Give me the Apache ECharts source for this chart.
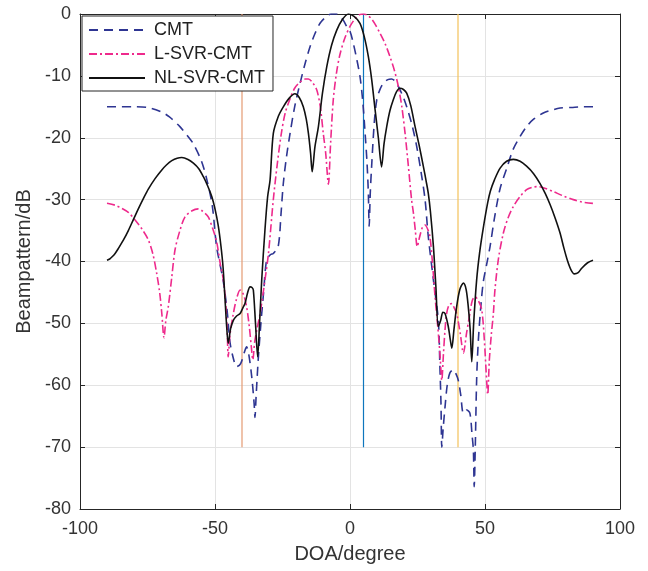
<!DOCTYPE html>
<html>
<head>
<meta charset="utf-8">
<script src="https://cdn.jsdelivr.net/npm/echarts@6/dist/echarts.min.js"></script>
<style>
html,body{margin:0;padding:0;background:#fff;}
#chart{width:648px;height:571px;}
</style>
</head>
<body>
<div id="chart"></div>
<script>
// ---- data (DOA in degrees, beampattern in dB) ----
const seriesNames = ['CMT', 'L-SVR-CMT', 'NL-SVR-CMT'];

const cmtPoints = [
  [-90,-15],[-85,-15],[-80,-15],[-75,-15.1],[-70,-15.8],[-67,-16.6],[-63,-18.2],[-60,-19.8],
  [-58,-21],[-55,-23.8],[-53,-26.8],[-51,-31],[-49.4,-37.6],[-47,-43],[-45.5,-48],[-44.4,-53.2],
  [-43,-56],[-42,-57],[-40.5,-56.5],[-39,-54.5],[-38.3,-53.8],[-37.5,-55],[-36.4,-58.6],[-35.5,-63],
  [-35.2,-65.2],[-34.8,-62],[-34,-55.9],[-33,-50],[-32,-45],[-30.9,-39.8],[-29.5,-38.9],[-28.4,-38.7],
  [-26.6,-37.6],[-25.5,-32],[-24.7,-27.4],[-23.5,-23],[-22.2,-19.3],[-20.5,-15],[-18.5,-11.2],
  [-16.5,-7.8],[-14.8,-5.3],[-13,-3.2],[-11.1,-1.5],[-9,-0.5],[-7,0],[-5,0],[-3.5,-0.5],[-2.5,-1],
  [-1,-2.2],[0,-2.8],[1.2,-4.7],[2.5,-7.3],[3.7,-10.1],[4.7,-14],[5.6,-19.3],[6.3,-24],[6.8,-29],
  [7.1,-34.3],[7.5,-29],[8,-24.7],[9,-17.5],[9.9,-13.9],[11,-12.3],[12.3,-11.2],[14,-10.6],
  [15.4,-10.5],[16.8,-10.9],[17.9,-11.7],[19.5,-13.2],[21,-15],[23,-18],[24.7,-21.4],[26.3,-25.5],
  [27.8,-30],[29,-36],[30.9,-43],[32.7,-49.5],[33.3,-57],[33.7,-63],[34,-70],[34.5,-67],[35.2,-63.5],
  [36,-60],[37,-58],[38.3,-57.5],[39.3,-58.2],[40.1,-59.2],[41,-61.5],[42,-64.5],[43.2,-64],
  [44.4,-64.5],[45.2,-68],[45.7,-70.5],[46,-76.4],[46.4,-70],[46.9,-59.2],[47.5,-53],[48.5,-47],
  [49.4,-43.2],[50.6,-40.5],[51.9,-37.5],[53.5,-33],[55.6,-28.2],[58,-25],[60.5,-21.8],[63,-19.8],
  [65.4,-18.2],[68,-17],[71.6,-16],[75,-15.5],[77.8,-15.2],[82,-15.1],[86,-15],[90,-15]
];

const lsvrPoints = [
  [-90,-30.6],[-87,-30.9],[-84.6,-31.4],[-82,-32.1],[-79.6,-33.3],[-77,-34.8],[-74.7,-36.5],
  [-73,-38.8],[-71.6,-41.9],[-70.5,-45],[-69.7,-48.4],[-68.9,-52.3],[-68.2,-49.5],[-67.3,-47.3],
  [-66,-42.5],[-64.8,-38.1],[-63,-35],[-61.1,-32.8],[-58.5,-31.8],[-56.2,-31.5],[-54.5,-31.9],
  [-52.5,-32.8],[-51,-34.5],[-49.4,-36.8],[-48,-40.5],[-46.9,-43],[-46,-47],
  [-45.5,-51],[-45.1,-55.4],[-44.5,-52],[-43.2,-48.4],[-42,-46],[-40.7,-44.6],[-39.5,-45.3],
  [-38.3,-47.3],[-37.3,-50.5],[-36.5,-54],[-36,-55.9],[-35.3,-53],[-34.5,-51],[-33.3,-48.4],
  [-31.5,-43],[-30.2,-38.7],[-28.4,-30],[-27,-24.5],[-25.5,-19.5],[-24,-16],[-22.2,-13.7],
  [-20.5,-12],[-18.5,-11],[-16.5,-10.5],[-15.4,-10.5],[-14,-11],[-12.3,-12.3],[-11,-15],
  [-9.9,-19.3],[-9,-22.5],[-8,-27.5],[-7.2,-21],[-6.2,-13.9],[-5,-9.5],[-3.7,-6.5],[-2,-4],
  [0,-2],[2,-0.7],[3.5,-0.1],[5,0],[6.5,-0.2],[8,-0.8],[9.5,-1.8],[11.1,-3.1],[13,-4.8],
  [14.8,-6.9],[16.5,-9.2],[17.9,-11.7],[19.2,-15],[20.4,-19.3],[21.6,-24.5],[22.8,-30],[23.5,-32.2],
  [24.2,-35],[24.9,-37.6],[25.8,-36],[26.8,-34.5],[27.8,-34.1],[28.8,-34.8],[29.6,-36],[30.5,-40],
  [31.5,-45.7],[32.5,-50.5],[33.3,-54.8],[34,-59.2],[34.6,-55],[35.2,-51],[35.8,-48.4],[36.7,-47],
  [37.7,-46.8],[38.6,-47.5],[39.5,-48.4],[40.8,-51.5],[42,-54.8],[43.2,-51.5],[44.4,-48.4],
  [45.3,-46.3],[46.3,-45.7],[47.5,-46.3],[48.8,-47.8],[49.8,-53],[50.6,-59.2],[51,-61.5],
  [51.6,-56],[52.3,-52],[53.1,-48.4],[53.7,-44.5],[55,-39.5],[56.8,-35.4],[58.5,-33],[60.5,-31.1],
  [63,-29.5],[65.4,-28.4],[67.5,-28],[69.7,-27.9],[72.5,-28.2],[75.3,-28.7],[79,-29.4],[82.7,-30],
  [86,-30.4],[90,-30.6]
];

const nlsvrPoints = [
  [-90,-39.8],[-89,-39.6],[-88,-39.2],[-87,-38.7],[-85.8,-37.9],[-84,-36.6],[-82.1,-35],[-80.2,-33.2],
  [-78.4,-31.5],[-76.5,-29.8],[-74.7,-28.3],[-72.2,-26.6],[-69.7,-25.2],[-68,-24.4],[-66,-23.7],[-64,-23.3],
  [-62.3,-23.2],[-60,-23.5],[-58,-24.1],[-56,-25],[-54.3,-26.3],[-52.7,-27.8],[-51.2,-29.5],
  [-50,-31.5],[-48.8,-34.2],[-47.8,-37.5],[-47,-41],[-46.3,-46],[-45.6,-51],[-45.1,-53.2],[-44.2,-50.8],
  [-43.2,-49.5],[-42,-48.8],[-40.7,-48.4],[-39.8,-47.6],[-38.9,-46.8],[-37.9,-45],[-37,-44.1],
  [-36.3,-44.2],[-35.8,-44.6],[-35,-50],[-34.2,-55.4],[-33.5,-50],[-32.7,-43],[-31.5,-34.9],
  [-30.5,-29.5],[-29.6,-26.8],[-28.4,-19.3],[-26.5,-16.5],[-24.7,-15],[-22.5,-13.6],[-20.4,-12.9],
  [-18.8,-13.5],[-17.3,-15],[-16.2,-17],[-15.4,-19.3],[-14.6,-22.5],[-14,-25.5],[-13,-21.5],
  [-11.7,-18.2],[-10.2,-12.8],[-8.6,-8.5],[-6.8,-5],[-4.9,-2.6],[-3,-1],[-0.6,0],[1.5,-0.4],
  [3.7,-1.5],[5.3,-3.7],[6.8,-6.9],[8,-10.5],[9.3,-15.5],[10.5,-20],[11.7,-24.7],[12.6,-21],
  [13.6,-18.2],[14.8,-15.6],[16,-13.9],[17.2,-12.6],[18.5,-12],[19.8,-12.2],[21,-12.8],[22.5,-14.8],
  [24.1,-18.2],[25.6,-21.2],[27.2,-24.7],[28.2,-27],[29,-29],[29.8,-32],[30.9,-37.6],[31.8,-44],
  [32.7,-50.5],[33.6,-49.5],[34.4,-48.2],[35.2,-48.4],[36.4,-50.5],[37.1,-52.5],[37.7,-54],
  [38.5,-51],[39.5,-47.3],[40.7,-44.5],[42,-43.5],[43,-44.5],[43.8,-47.3],[44.5,-51],[45.1,-56.2],
  [45.8,-50],[46.9,-43],[48,-38.6],[49.4,-34.5],[51,-30.5],[52,-28.6],[53.5,-26.8],[55.6,-24.9],
  [58,-23.8],[60.5,-23.5],[63,-23.8],[65.4,-24.6],[68,-25.8],[70.4,-27.4],[72.3,-29],[74.1,-30.8],
  [76,-33],[77.8,-35.4],[79.2,-37.8],[80.5,-39.8],[81.8,-41.3],[83.1,-42],[84.5,-41.8],[85.8,-41.1],
  [88,-40.2],[90,-39.8]
];

// vertical reference lines (DOA positions) and their dB extent
const markerDoa = [-40, 5, 40];
const markerRange = [-70, 0];

// axis ticks
const xTicks = [-100, -50, 0, 50, 100];
const yTicks = [-80, -70, -60, -50, -40, -30, -20, -10, 0];

// ---- chart ----
const FONT = "'Liberation Sans', Arial, Helvetica, sans-serif";
const TXT = '#333333';
const AX = '#262626';
const chart = echarts.init(document.getElementById('chart'), null, {renderer: 'canvas'});

const markerColors = ['#E59A72', '#0E76BD', '#F3C15A'];
const markerSeries = markerDoa.map((d, i) => ({
  type: 'line',
  name: 'marker' + i,
  data: [[d, markerRange[0]], [d, markerRange[1]]],
  symbol: 'none',
  silent: true,
  lineStyle: {color: markerColors[i], width: 1.2},
  z: 1
}));

const xMin = xTicks[0], xMax = xTicks[xTicks.length - 1];
const yMin = yTicks[0], yMax = yTicks[yTicks.length - 1];
const xInt = xTicks[1] - xTicks[0];
const yInt = yTicks[1] - yTicks[0];

const axLine = {show: true, onZero: false, lineStyle: {color: AX, width: 1}};
const axTick = {show: true, inside: true, length: 5, lineStyle: {color: AX}};

const option = {
  animation: false,
  backgroundColor: '#ffffff',
  textStyle: {fontFamily: FONT},
  grid: {left: 80, right: 28, top: 14, bottom: 62, show: false},
  legend: {
    data: seriesNames,
    orient: 'vertical',
    left: 82, top: 16,
    padding: [5, 8, 4, 6],
    itemWidth: 56, itemHeight: 14, itemGap: 6,
    backgroundColor: '#ffffff',
    borderColor: AX, borderWidth: 1,
    itemStyle: {opacity: 0},
    textStyle: {fontFamily: FONT, fontSize: 18, color: '#222', padding: [0, 0, 0, 4]}
  },
  xAxis: [{
    type: 'value', min: xMin, max: xMax, interval: xInt,
    name: 'DOA/degree', nameLocation: 'middle', nameGap: 35,
    nameTextStyle: {fontFamily: FONT, fontSize: 20, color: TXT},
    axisLine: axLine, axisTick: axTick,
    axisLabel: {fontFamily: FONT, fontSize: 18, color: TXT, margin: 11},
    splitLine: {show: true, lineStyle: {color: '#E3E3E3', width: 1}}
  }, {
    type: 'value', min: xMin, max: xMax, interval: xInt, position: 'top',
    axisLine: axLine, axisTick: axTick,
    axisLabel: {show: false}, splitLine: {show: false}
  }],
  yAxis: [{
    type: 'value', min: yMin, max: yMax, interval: yInt,
    name: 'Beampattern/dB', nameLocation: 'middle', nameGap: 46,
    nameTextStyle: {fontFamily: FONT, fontSize: 20, color: TXT},
    axisLine: axLine, axisTick: axTick,
    axisLabel: {fontFamily: FONT, fontSize: 18, color: TXT, margin: 9},
    splitLine: {show: true, lineStyle: {color: '#E3E3E3', width: 1}}
  }, {
    type: 'value', min: yMin, max: yMax, interval: yInt, position: 'right',
    axisLine: axLine, axisTick: axTick,
    axisLabel: {show: false}, splitLine: {show: false}
  }],
  series: [
    ...markerSeries,
    {
      type: 'line', name: seriesNames[0], data: cmtPoints,
      symbol: 'none', smooth: 0.3, z: 3,
      lineStyle: {color: '#2E3592', width: 1.6, type: [9, 6]},
      itemStyle: {color: '#2E3592'}
    },
    {
      type: 'line', name: seriesNames[1], data: lsvrPoints,
      symbol: 'none', smooth: 0.3, z: 4,
      lineStyle: {color: '#EE2A8C', width: 1.6, type: [8, 3, 2, 3]},
      itemStyle: {color: '#EE2A8C'}
    },
    {
      type: 'line', name: seriesNames[2], data: nlsvrPoints,
      symbol: 'none', smooth: 0.3, z: 5,
      lineStyle: {color: '#111111', width: 1.6},
      itemStyle: {color: '#111111'}
    }
  ]
};
chart.setOption(option);
</script>
</body>
</html>
